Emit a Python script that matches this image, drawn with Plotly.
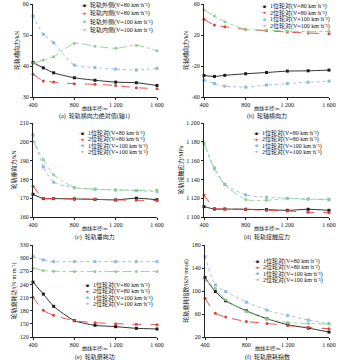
import plotly.graph_objects as go

# ---------------- data ----------------
radius = [400, 500, 600, 800, 1000, 1200, 1400, 1600]
x_tickvals = [400, 800, 1200, 1600]
x_ticktext = ["400", "800", "1 200", "1 600"]

# (a) wheel-rail lateral force, absolute value (axle 1)
a_out_80 = [41.1, 39.4, 37.8, 36.2, 35.4, 34.8, 34.6, 33.7]
a_in_80 = [37.3, 35.2, 34.8, 34.3, 34.1, 33.7, 33.0, 32.7]
a_out_100 = [56.1, 50.2, 47.5, 40.3, 39.5, 39.0, 38.7, 39.2]
a_in_100 = [40.8, 41.9, 43.0, 47.3, 46.4, 45.7, 46.7, 44.9]

# (b) axle lateral force
b_w1_80 = [-32.2, -33.5, -32.0, -30.0, -28.4, -26.6, -26.2, -25.3]
b_w2_80 = [40.2, 32.8, 30.7, 27.2, 25.5, 23.8, 22.5, 21.6]
b_w1_100 = [-38.3, -42.6, -46.0, -47.3, -44.7, -42.6, -40.9, -39.6]
b_w2_100 = [52.2, 44.5, 37.2, 27.2, 26.4, 25.1, 24.2, 24.7]

# (c) wheel-rail vertical force
c_w1_80 = [172.1, 169.8, 169.8, 169.6, 169.4, 169.1, 170.0, 169.2]
c_w2_80 = [176.4, 170.0, 169.8, 169.6, 169.4, 169.1, 168.9, 168.7]
c_w1_100 = [203.8, 186.7, 178.5, 175.5, 174.8, 174.4, 174.1, 173.4]
c_w2_100 = [200.2, 190.4, 182.4, 175.8, 174.8, 174.4, 174.2, 174.4]

# (d) wheel-rail contact stress
d_w1_80 = [1111.0, 1108.5, 1108.5, 1108.2, 1107.8, 1107.1, 1108.2, 1107.1]
d_w2_80 = [1123.5, 1109.3, 1108.5, 1108.2, 1107.0, 1106.4, 1105.0, 1104.6]
d_w1_100 = [1178.6, 1152.0, 1134.9, 1123.5, 1121.0, 1120.0, 1119.2, 1118.9]
d_w2_100 = [1178.6, 1151.2, 1134.2, 1118.5, 1117.8, 1119.6, 1118.9, 1118.2]

# (e) wheel-rail wear work
e_w1_80 = [245.2, 218.0, 190.0, 157.3, 146.7, 143.6, 139.8, 138.3]
e_w2_80 = [211.0, 180.8, 169.4, 157.3, 152.7, 150.5, 148.9, 148.2]
e_w1_100 = [303.5, 296.0, 292.0, 292.0, 292.0, 292.0, 292.0, 292.0]
e_w2_100 = [277.0, 271.7, 270.0, 269.4, 269.4, 269.4, 269.4, 269.4]

# (f) wheel-rail wear index
f_w1_80 = [123.4, 99.0, 83.0, 65.5, 51.7, 41.3, 35.5, 28.6]
f_w2_80 = [87.5, 61.5, 54.6, 47.0, 43.6, 40.0, 36.7, 34.3]
f_w1_100 = [159.8, 110.6, 99.0, 80.6, 66.7, 57.5, 49.4, 43.6]
f_w2_100 = [119.3, 104.9, 84.6, 64.4, 51.7, 45.3, 43.6, 42.4]

side_names = ["轮轨外侧(V=80 km·h⁻¹)", "轮轨内侧(V=80 km·h⁻¹)",
              "轮轨外侧(V=100 km·h⁻¹)", "轮轨内侧(V=100 km·h⁻¹)"]
wheel_names = ["1位轮对(V=80 km·h⁻¹)", "2位轮对(V=80 km·h⁻¹)",
               "1位轮对(V=100 km·h⁻¹)", "2位轮对(V=100 km·h⁻¹)"]

y_titles = ["轮轨横向力/kN", "轮轴横向力/kN", "轮轨垂向力/kN",
            "轮轨接触应力/MPa", "轮轨磨耗功/(N·m·m⁻¹)", "轮轨磨耗指数/(kN·mrad)"]
captions = ["(a)  轮轨横向力绝对值(轴1)", "(b)  轮轴横向力", "(c)  轮轨垂向力",
            "(d)  轮轨接触应力", "(e)  轮轨磨耗功", "(f)  轮轨磨耗指数"]
x_title = "曲线半径/m"

y_ranges = [[30, 60], [-60, 60], [160, 210], [1100, 1200], [120, 330], [20, 180]]
y_ticks = [[30, 40, 50, 60], [-60, -20, 20, 60], [160, 170, 180, 190, 200, 210],
           [1100, 1120, 1140, 1160, 1180, 1200], [120, 150, 180, 210, 240, 270, 300, 330],
           [20, 60, 100, 140, 180]]

# ---------------- styling ----------------
W, H = 350, 360
FONT = "Liberation Serif, Noto Sans CJK SC, serif"
colors = ["#1a1a1a", "#e0403a", "#8fb8e4", "#8ccf8c"]
dashes = ["solid", "dash", "dot", "dashdot"]
symbols = ["square", "circle", "square", "circle"]
glyphs = ["-■-", "-●-", "·■·", "-●·"]

# plot boxes in pixels: (x0, x1, y0_top, y1_bottom)
boxes = [(33, 157, 4, 97), (204, 329, 4, 97),
         (33, 157, 123, 217), (204, 329, 123, 217),
         (33, 157, 245, 337), (205, 329, 245, 337)]
# legend (glyph x, first row center y, row spacing)
legends = [(79, 5.5, 8.0), (259, 6.0, 6.6), (77, 133, 6.3),
           (251, 133, 6.3), (82, 285, 6.3), (252, 261, 6.3)]

panels = [
    ([a_out_80, a_in_80, a_out_100, a_in_100], side_names),
    ([b_w1_80, b_w2_80, b_w1_100, b_w2_100], wheel_names),
    ([c_w1_80, c_w2_80, c_w1_100, c_w2_100], wheel_names),
    ([d_w1_80, d_w2_80, d_w1_100, d_w2_100], wheel_names),
    ([e_w1_80, e_w2_80, e_w1_100, e_w2_100], wheel_names),
    ([f_w1_80, f_w2_80, f_w1_100, f_w2_100], wheel_names),
]


def px(x):
    return x / W


def py(y):
    return 1 - y / H


fig = go.Figure()
annotations = []
for i, ((series, names), box) in enumerate(zip(panels, boxes)):
    n = "" if i == 0 else str(i + 1)
    for k, (vals, name) in enumerate(zip(series, names)):
        fig.add_trace(go.Scatter(
            x=radius, y=vals, name=name, mode="lines+markers",
            xaxis="x" + n, yaxis="y" + n, showlegend=False, cliponaxis=False,
            line=dict(color=colors[k], dash=dashes[k], width=0.9, shape="spline", smoothing=0.6),
            marker=dict(color=colors[k], symbol=symbols[k], size=3),
        ))
    x0, x1, y0, y1 = box
    ytv = y_ticks[i]
    ytt = [f"{v:,}".replace(",", " ") for v in ytv]
    fig.update_layout(**{
        "xaxis" + n: dict(
            domain=[px(x0), px(x1)], anchor="y" + n, range=[400, 1600],
            tickvals=x_tickvals, ticktext=x_ticktext, ticks="outside", ticklen=2,
            tickwidth=0.8, tickcolor="#222", showline=True, linecolor="#222", linewidth=0.9,
            showgrid=False, zeroline=False, automargin=False,
            tickfont=dict(size=6, family=FONT, color="#111"),
        ),
        "yaxis" + n: dict(
            domain=[py(y1), py(y0)], anchor="x" + n, range=y_ranges[i],
            tickvals=ytv, ticktext=ytt, ticks="outside", ticklen=2,
            tickwidth=0.8, tickcolor="#222", showline=True, linecolor="#222", linewidth=0.9,
            showgrid=False, zeroline=False, automargin=False,
            tickfont=dict(size=6, family=FONT, color="#111"),
            title=dict(text=y_titles[i], font=dict(size=6, family=FONT, color="#111"), standoff=2),
        ),
    })
    # x axis title
    annotations.append(dict(
        text=x_title, x=px((x0 + x1) / 2), y=py(y1 + 11), xref="paper", yref="paper",
        xanchor="center", yanchor="middle", showarrow=False,
        font=dict(size=5, family=FONT, color="#111")))
    # caption
    annotations.append(dict(
        text=captions[i], x=px((x0 + x1) / 2), y=py(y1 + 19.5), xref="paper", yref="paper",
        xanchor="center", yanchor="middle", showarrow=False,
        font=dict(size=6, family=FONT, color="#111")))
    # legend: glyph + label
    gx, gy, gs = legends[i]
    for k, name in enumerate(names):
        yy = py(gy + k * gs)
        annotations.append(dict(
            text=glyphs[k], x=px(gx), y=yy, xref="paper", yref="paper",
            xanchor="left", yanchor="middle", showarrow=False,
            font=dict(size=5, family=FONT, color=colors[k])))
        annotations.append(dict(
            text=name, x=px(gx + 9), y=yy, xref="paper", yref="paper",
            xanchor="left", yanchor="middle", showarrow=False,
            font=dict(size=6, family=FONT, color="#111")))

fig.update_layout(
    width=W, height=H, margin=dict(l=0, r=0, t=0, b=0),
    paper_bgcolor="white", plot_bgcolor="white", showlegend=False,
    annotations=annotations, font=dict(family=FONT),
)
fig.write_html("out.html")
